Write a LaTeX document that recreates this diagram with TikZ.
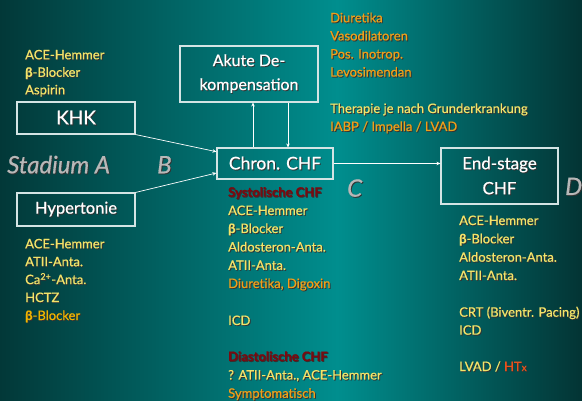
\documentclass[tikz,border=0pt]{standalone}
\usepackage{fontspec}
\setmainfont{Lato}[FakeBold=0.6]
\newfontfamily\boldish{Lato}[FakeBold=0.6,BoldFont=*,BoldFeatures={FakeBold=0.6}]
\usetikzlibrary{arrows.meta}
\definecolor{bgdark}{HTML}{023838}
\definecolor{bgdarkR}{HTML}{033434}
\definecolor{bgmid}{HTML}{008E8E}
\definecolor{yel}{HTML}{F2E46A}
\definecolor{gold}{HTML}{F0B400}
\definecolor{org}{HTML}{EE9F1A}
\definecolor{dred}{HTML}{7A0A10}
\definecolor{htx}{HTML}{EA521C}
\definecolor{stagegrey}{HTML}{B8B8B8}
\definecolor{boxline}{HTML}{D4E4E4}
\pgfdeclarehorizontalshading{bgshade}{100bp}{color(0bp)=(bgdark); color(25bp)=(bgdark); color(54bp)=(bgmid); color(75bp)=(bgdarkR); color(100bp)=(bgdarkR)}
\def\ignorecol#1#2{#2}
\newcommand\SH[1]{\leavevmode\rlap{\kern0.9pt\raisebox{-0.9pt}{\color{black!80}\let\textcolor\ignorecol #1}}#1}
\tikzset{
  lst/.style={anchor=base west, inner sep=0pt, font=\fontsize{13}{15}\selectfont},
  box/.style={draw=boxline, line width=1.1pt, inner sep=0pt, text=white, align=center},
  stage/.style={anchor=base west, inner sep=0pt, text=stagegrey, font=\fontsize{24}{24}\selectfont\itshape},
  arr/.style={draw=white, line width=0.7pt, -{Stealth[length=4pt,width=3.5pt]}}
}
\begin{document}
\begin{tikzpicture}[x=1pt,y=-1pt]
\useasboundingbox (0,0) rectangle (582,401);
\shade[shading=bgshade] (0,0) rectangle (582,401);

% boxes
\node[box, minimum width=118pt, minimum height=32pt, font=\fontsize{19}{22}\selectfont] (khk) at (76,118) {\SH{KHK}};
\node[box, minimum width=118pt, minimum height=33pt, font=\fontsize{16.5}{20}\selectfont] (hyp) at (76,209.5) {\SH{Hypertonie}};
\node[box, minimum width=138pt, minimum height=56pt, font=\fontsize{16}{24}\selectfont] (ak) at (249,74) {\SH{Akute De-}\\\SH{kompensation}};
\node[box, minimum width=116pt, minimum height=31pt, font=\fontsize{17.5}{20}\selectfont] (chr) at (275,163.5) {\SH{Chron. CHF}};
\node[box, minimum width=117pt, minimum height=56pt, font=\fontsize{17}{25}\selectfont] (end) at (499.5,176) {\SH{End-stage}\\\SH{CHF}};

% connectors
\draw[arr] (khk.south east) -- ([yshift=11.8pt]chr.west);
\draw[arr] (hyp.north east) -- ([yshift=-9.5pt]chr.west);
\draw[arr] (chr.east) -- (chr.east -| end.west);
\draw[arr] ([xshift=4pt]ak.south |- chr.north) -- ([xshift=4pt]ak.south);
\draw[arr] ([xshift=39pt]ak.south) -- ([xshift=39pt]ak.south |- chr.north);

% stage labels
\node[stage] (sA) at (7,173.3) {\SH{Stadium A}};
\node[stage] (sB) at (157,173.3) {\SH{B}};
\node[stage] (sC) at (347,196.7) {\SH{C}};
\node[stage] (sD) at (565,195) {\SH{D}};

% top-left list
\node[lst, text=yel] (tl1) at (25,59.3) {\SH{ACE-Hemmer}};
\node[lst, text=yel] (tl2) at (25,76.8) {\SH{\textbf{β}-Blocker}};
\node[lst, text=yel] (tl3) at (25,94.3) {\SH{Aspirin}};

% bottom-left list
\node[lst, text=yel] (bl1) at (25,248.3) {\SH{ACE-Hemmer}};
\node[lst, text=yel] (bl2) at (25,266.2) {\SH{ATII-Anta.}};
\node[lst, text=yel] (bl3) at (25,284.1) {\SH{Ca\textsuperscript{2+}-Anta.}};
\node[lst, text=yel] (bl4) at (25,302) {\SH{HCTZ}};
\node[lst, text=gold] (bl5) at (25,320) {\SH{\textbf{β}-Blocker}};

% top-right list
\node[lst, text=org] (tr1) at (330,22.3) {\SH{Diuretika}};
\node[lst, text=org] (tr2) at (330,40.4) {\SH{Vasodilatoren}};
\node[lst, text=org] (tr3) at (330,58.5) {\SH{Pos. Inotrop.}};
\node[lst, text=org] (tr4) at (330,76.6) {\SH{Levosimendan}};
\node[lst, text=yel] (tr5) at (330,113) {\SH{Therapie je nach Grunderkrankung}};
\node[lst, text=org] (tr6) at (330,131) {\SH{IABP / Impella / LVAD}};

% middle list
\node[lst, text=dred, font=\fontsize{13}{15}\selectfont\bfseries] (m1) at (228,196.7) {\SH{Systolische CHF}};
\node[lst, text=yel] (m2) at (228,215) {\SH{ACE-Hemmer}};
\node[lst, text=yel] (m3) at (228,233) {\SH{\textbf{β}-Blocker}};
\node[lst, text=yel] (m4) at (228,251.5) {\SH{Aldosteron-Anta.}};
\node[lst, text=yel] (m5) at (228,269.8) {\SH{ATII-Anta.}};
\node[lst, text=org] (m6) at (228,288) {\SH{Diuretika, Digoxin}};
\node[lst, text=yel] (m7) at (228,325) {\SH{ICD}};
\node[lst, text=dred, font=\fontsize{13}{15}\selectfont\bfseries] (m8) at (228,361) {\SH{Diastolische CHF}};
\node[lst, text=yel] (m9) at (228,379.5) {\SH{? ATII-Anta., ACE-Hemmer}};
\node[lst, text=org] (m10) at (228,397.8) {\SH{Symptomatisch}};

% right list
\node[lst, text=yel] (r1) at (459,225) {\SH{ACE-Hemmer}};
\node[lst, text=yel] (r2) at (459,243.3) {\SH{\textbf{β}-Blocker}};
\node[lst, text=yel] (r3) at (459,261.7) {\SH{Aldosteron-Anta.}};
\node[lst, text=yel] (r4) at (459,280) {\SH{ATII-Anta.}};
\node[lst, text=yel] (r5) at (459,316.7) {\SH{CRT (Biventr. Pacing)}};
\node[lst, text=yel] (r6) at (459,334.7) {\SH{ICD}};
\node[lst, text=yel] (r7) at (459,371) {\SH{LVAD / \textcolor{htx}{HT{\fontsize{10}{10}\selectfont x}}}};
\end{tikzpicture}
\end{document}
